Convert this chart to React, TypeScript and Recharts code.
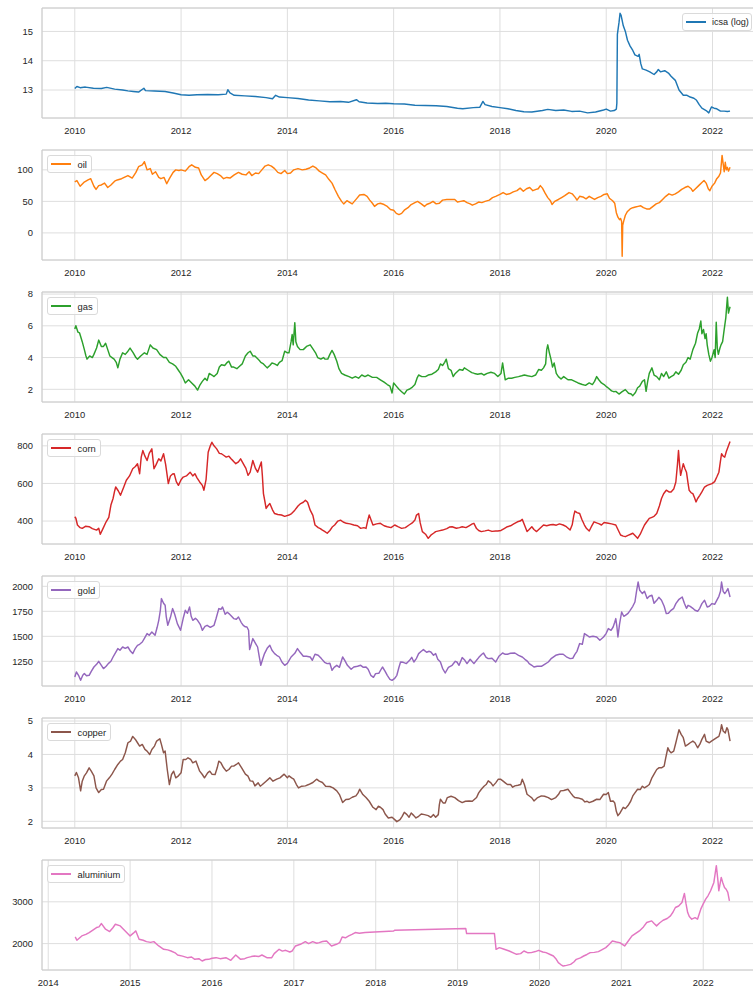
import React from "react";
import {
  CartesianGrid,
  Line,
  LineChart,
  ReferenceLine,
  XAxis,
  YAxis,
} from "recharts";

type Pt = [number, number];

// x = decimal year, y = value
const icsa: Pt[] = [
  [2010.0, 13.05], [2010.04, 13.12], [2010.1, 13.08], [2010.2, 13.1], [2010.35, 13.06], [2010.5, 13.05],
  [2010.6, 13.09], [2010.75, 13.03], [2010.9, 13.0], [2011.0, 12.97], [2011.1, 12.95], [2011.2, 12.93],
  [2011.3, 13.06], [2011.33, 12.98], [2011.5, 12.97], [2011.7, 12.95], [2011.85, 12.9], [2012.0, 12.84],
  [2012.15, 12.82], [2012.3, 12.84], [2012.5, 12.85], [2012.7, 12.84], [2012.85, 12.86], [2012.88, 13.01],
  [2012.92, 12.9], [2013.0, 12.82], [2013.2, 12.8], [2013.4, 12.78], [2013.6, 12.74], [2013.72, 12.7],
  [2013.78, 12.82], [2013.85, 12.76], [2014.0, 12.74], [2014.2, 12.71], [2014.4, 12.66], [2014.6, 12.63],
  [2014.8, 12.6], [2015.0, 12.61], [2015.15, 12.58], [2015.3, 12.67], [2015.35, 12.6], [2015.5, 12.56],
  [2015.7, 12.54], [2015.85, 12.55], [2016.0, 12.53], [2016.2, 12.52], [2016.4, 12.48], [2016.6, 12.47],
  [2016.8, 12.46], [2017.0, 12.44], [2017.2, 12.38], [2017.3, 12.36], [2017.5, 12.4], [2017.62, 12.41],
  [2017.68, 12.61], [2017.72, 12.5], [2017.85, 12.44], [2018.0, 12.4], [2018.15, 12.36], [2018.3, 12.3],
  [2018.45, 12.26], [2018.6, 12.25], [2018.8, 12.3], [2018.9, 12.34], [2019.05, 12.3], [2019.2, 12.32],
  [2019.35, 12.27], [2019.5, 12.28], [2019.65, 12.22], [2019.8, 12.25], [2019.95, 12.32], [2020.0, 12.35],
  [2020.08, 12.28], [2020.15, 12.3], [2020.19, 12.35], [2020.2, 12.55], [2020.21, 14.9], [2020.24, 15.3],
  [2020.26, 15.62], [2020.28, 15.55], [2020.32, 15.2], [2020.36, 15.0], [2020.4, 14.7], [2020.45, 14.5],
  [2020.5, 14.35], [2020.54, 14.2], [2020.6, 14.15], [2020.62, 14.22], [2020.65, 13.9], [2020.68, 13.72],
  [2020.75, 13.68], [2020.82, 13.62], [2020.9, 13.53], [2020.95, 13.62], [2020.98, 13.7], [2021.02, 13.62],
  [2021.1, 13.66], [2021.17, 13.58], [2021.22, 13.47], [2021.3, 13.33], [2021.37, 13.0], [2021.45, 12.82],
  [2021.52, 12.82], [2021.58, 12.76], [2021.65, 12.72], [2021.7, 12.65], [2021.75, 12.5], [2021.8, 12.38],
  [2021.88, 12.3], [2021.93, 12.22], [2021.98, 12.42], [2022.03, 12.38], [2022.08, 12.36], [2022.15, 12.28],
  [2022.22, 12.28], [2022.28, 12.27], [2022.33, 12.28],
];

const oil: Pt[] = [
  [2010.0, 81], [2010.04, 83], [2010.1, 74], [2010.17, 80], [2010.25, 84], [2010.3, 86], [2010.36, 74],
  [2010.4, 69], [2010.45, 75], [2010.5, 76], [2010.56, 79], [2010.62, 72], [2010.68, 76], [2010.75, 82],
  [2010.8, 84], [2010.88, 86], [2010.95, 89], [2011.0, 91], [2011.08, 87], [2011.15, 96], [2011.2, 105],
  [2011.27, 108], [2011.31, 113], [2011.36, 100], [2011.42, 102], [2011.46, 93], [2011.52, 97], [2011.58, 88],
  [2011.62, 86], [2011.68, 88], [2011.73, 78], [2011.78, 86], [2011.85, 96], [2011.9, 100], [2011.96, 99],
  [2012.0, 100], [2012.08, 98], [2012.15, 105], [2012.2, 108], [2012.27, 104], [2012.33, 103], [2012.38, 92],
  [2012.45, 83], [2012.5, 86], [2012.56, 91], [2012.62, 96], [2012.68, 94], [2012.74, 91], [2012.8, 86],
  [2012.86, 88], [2012.92, 87], [2013.0, 92], [2013.08, 96], [2013.15, 93], [2013.22, 92], [2013.28, 97],
  [2013.33, 91], [2013.4, 95], [2013.46, 94], [2013.52, 100], [2013.58, 106], [2013.64, 108], [2013.7, 106],
  [2013.76, 102], [2013.82, 96], [2013.88, 94], [2013.95, 99], [2014.0, 94], [2014.06, 95], [2014.12, 100],
  [2014.2, 102], [2014.28, 100], [2014.35, 101], [2014.42, 103], [2014.48, 106], [2014.54, 103], [2014.6, 98],
  [2014.66, 95], [2014.72, 92], [2014.78, 85], [2014.84, 79], [2014.9, 68], [2014.96, 58], [2015.02, 50],
  [2015.06, 46], [2015.12, 51], [2015.18, 48], [2015.22, 46], [2015.3, 54], [2015.36, 60], [2015.44, 61],
  [2015.5, 58], [2015.55, 52], [2015.6, 47], [2015.64, 42], [2015.7, 46], [2015.75, 47], [2015.82, 45],
  [2015.88, 42], [2015.94, 37], [2016.0, 36], [2016.05, 31], [2016.1, 29], [2016.15, 31], [2016.2, 36],
  [2016.27, 40], [2016.33, 45], [2016.4, 48], [2016.45, 50], [2016.52, 46], [2016.58, 42], [2016.62, 45],
  [2016.68, 47], [2016.74, 50], [2016.8, 46], [2016.86, 47], [2016.92, 52], [2017.0, 53], [2017.08, 53],
  [2017.15, 53], [2017.2, 49], [2017.26, 50], [2017.32, 51], [2017.38, 48], [2017.44, 46], [2017.48, 44],
  [2017.54, 46], [2017.6, 49], [2017.66, 48], [2017.72, 50], [2017.8, 52], [2017.86, 56], [2017.92, 58],
  [2018.0, 61], [2018.06, 64], [2018.12, 61], [2018.18, 62], [2018.25, 65], [2018.32, 67], [2018.38, 71],
  [2018.44, 66], [2018.5, 70], [2018.56, 72], [2018.62, 67], [2018.68, 69], [2018.72, 70], [2018.76, 75],
  [2018.8, 71], [2018.85, 63], [2018.9, 56], [2018.95, 51], [2018.98, 45], [2019.03, 50], [2019.1, 53],
  [2019.16, 56], [2019.22, 59], [2019.3, 64], [2019.36, 62], [2019.42, 56], [2019.45, 52], [2019.5, 58],
  [2019.56, 57], [2019.62, 54], [2019.68, 58], [2019.72, 56], [2019.78, 53], [2019.84, 56], [2019.9, 58],
  [2019.96, 61], [2020.02, 62], [2020.06, 55], [2020.12, 51], [2020.16, 47], [2020.19, 32], [2020.22, 25],
  [2020.25, 21], [2020.27, 23], [2020.29, 18], [2020.3, -37], [2020.31, 12], [2020.33, 19], [2020.36, 28],
  [2020.4, 34], [2020.45, 38], [2020.5, 40], [2020.55, 41], [2020.6, 42], [2020.65, 43], [2020.7, 40],
  [2020.76, 38], [2020.82, 38], [2020.88, 42], [2020.94, 46], [2021.0, 48], [2021.06, 53], [2021.12, 58],
  [2021.18, 62], [2021.24, 60], [2021.3, 62], [2021.36, 65], [2021.42, 69], [2021.48, 72], [2021.54, 74],
  [2021.6, 70], [2021.63, 66], [2021.68, 70], [2021.74, 75], [2021.8, 80], [2021.84, 83], [2021.88, 79],
  [2021.92, 70], [2021.95, 67], [2021.99, 74], [2022.04, 79], [2022.08, 86], [2022.12, 90], [2022.15, 95],
  [2022.18, 123], [2022.2, 110], [2022.22, 97], [2022.24, 112], [2022.26, 100], [2022.28, 104], [2022.3, 98],
  [2022.33, 104],
];

const gas: Pt[] = [
  [2010.0, 5.8], [2010.02, 6.0], [2010.06, 5.6], [2010.09, 5.55], [2010.14, 5.0], [2010.18, 4.5], [2010.21, 4.1],
  [2010.23, 3.9], [2010.28, 4.1], [2010.33, 4.0], [2010.36, 4.2], [2010.41, 4.6], [2010.45, 5.1], [2010.5, 4.7],
  [2010.54, 4.7], [2010.58, 4.9], [2010.62, 4.5], [2010.66, 4.1], [2010.7, 4.0], [2010.74, 3.9], [2010.78, 3.7],
  [2010.81, 3.35], [2010.85, 3.9], [2010.9, 4.3], [2010.95, 4.2], [2011.0, 4.4], [2011.04, 4.6], [2011.1, 4.3],
  [2011.15, 4.0], [2011.18, 3.9], [2011.24, 4.1], [2011.31, 4.3], [2011.36, 4.2], [2011.42, 4.8], [2011.47, 4.6],
  [2011.54, 4.5], [2011.6, 4.2], [2011.67, 4.0], [2011.72, 4.0], [2011.78, 3.7], [2011.84, 3.6], [2011.9, 3.45],
  [2011.95, 3.2], [2011.99, 3.0], [2012.04, 2.7], [2012.08, 2.4], [2012.14, 2.6], [2012.2, 2.4], [2012.26, 2.2],
  [2012.31, 1.95], [2012.36, 2.3], [2012.4, 2.5], [2012.45, 2.7], [2012.49, 2.55], [2012.53, 3.0], [2012.58, 2.9],
  [2012.62, 2.8], [2012.68, 3.0], [2012.72, 3.4], [2012.76, 3.55], [2012.82, 3.5], [2012.87, 3.7], [2012.9, 3.77],
  [2012.95, 3.4], [2012.99, 3.4], [2013.05, 3.3], [2013.1, 3.45], [2013.15, 3.6], [2013.21, 4.1], [2013.26, 4.3],
  [2013.3, 4.4], [2013.35, 4.1], [2013.39, 4.1], [2013.45, 3.9], [2013.5, 3.7], [2013.55, 3.6], [2013.62, 3.35],
  [2013.67, 3.5], [2013.71, 3.66], [2013.76, 3.6], [2013.81, 3.5], [2013.85, 3.7], [2013.9, 3.8], [2013.95, 4.4],
  [2014.0, 4.3], [2014.03, 4.3], [2014.07, 5.0], [2014.09, 5.45], [2014.11, 4.8], [2014.14, 6.2], [2014.16, 5.0],
  [2014.19, 4.7], [2014.24, 4.5], [2014.3, 4.5], [2014.36, 4.7], [2014.43, 4.8], [2014.49, 4.5], [2014.53, 4.3],
  [2014.57, 4.0], [2014.63, 3.9], [2014.68, 4.0], [2014.71, 3.9], [2014.76, 3.9], [2014.8, 4.2], [2014.84, 4.45],
  [2014.88, 4.2], [2014.93, 3.77], [2014.97, 3.3], [2015.02, 3.0], [2015.08, 2.9], [2015.16, 2.8], [2015.22, 2.7],
  [2015.28, 2.8], [2015.34, 2.7], [2015.4, 2.9], [2015.46, 2.8], [2015.52, 2.9], [2015.6, 2.75], [2015.68, 2.75],
  [2015.75, 2.6], [2015.82, 2.45], [2015.88, 2.3], [2015.93, 2.2], [2015.97, 1.77], [2016.0, 2.4], [2016.05, 2.2],
  [2016.1, 2.0], [2016.15, 1.85], [2016.2, 1.7], [2016.25, 1.95], [2016.29, 2.0], [2016.34, 2.1], [2016.4, 2.3],
  [2016.44, 2.7], [2016.47, 2.9], [2016.53, 2.8], [2016.6, 2.8], [2016.65, 2.9], [2016.72, 2.95], [2016.79, 3.1],
  [2016.84, 3.25], [2016.88, 3.6], [2016.92, 3.5], [2016.96, 3.7], [2016.99, 3.9], [2017.03, 3.3], [2017.08, 3.2],
  [2017.12, 2.8], [2017.16, 3.0], [2017.24, 3.25], [2017.3, 3.2], [2017.33, 3.35], [2017.4, 3.2], [2017.47, 3.05],
  [2017.52, 3.0], [2017.58, 2.95], [2017.65, 3.0], [2017.7, 2.9], [2017.76, 3.0], [2017.83, 3.07], [2017.9, 3.0],
  [2017.96, 2.8], [2018.02, 3.0], [2018.05, 3.66], [2018.08, 3.0], [2018.1, 2.6], [2018.16, 2.7], [2018.22, 2.7],
  [2018.28, 2.75], [2018.35, 2.8], [2018.41, 2.85], [2018.46, 2.9], [2018.52, 2.85], [2018.6, 2.8], [2018.67, 2.9],
  [2018.73, 3.25], [2018.78, 3.2], [2018.82, 3.35], [2018.86, 3.6], [2018.88, 4.5], [2018.9, 4.8], [2018.93, 4.3],
  [2018.96, 3.9], [2018.99, 3.4], [2019.02, 3.66], [2019.06, 3.0], [2019.1, 2.8], [2019.15, 2.65], [2019.2, 2.8],
  [2019.28, 2.6], [2019.35, 2.6], [2019.41, 2.5], [2019.47, 2.4], [2019.55, 2.3], [2019.61, 2.25], [2019.68, 2.4],
  [2019.74, 2.3], [2019.78, 2.5], [2019.82, 2.8], [2019.86, 2.6], [2019.91, 2.4], [2019.96, 2.3], [2020.01, 2.15],
  [2020.05, 2.05], [2020.1, 1.9], [2020.14, 1.85], [2020.18, 1.87], [2020.24, 1.7], [2020.3, 1.85], [2020.36, 1.98],
  [2020.42, 1.75], [2020.47, 1.7], [2020.5, 1.6], [2020.55, 1.8], [2020.59, 2.1], [2020.63, 2.2], [2020.68, 2.5],
  [2020.72, 2.6], [2020.75, 1.87], [2020.78, 2.5], [2020.81, 3.0], [2020.86, 3.35], [2020.9, 2.9], [2020.95, 2.8],
  [2021.0, 2.6], [2021.04, 3.0], [2021.08, 2.8], [2021.13, 3.1], [2021.18, 2.7], [2021.22, 2.8], [2021.27, 2.9],
  [2021.31, 3.1], [2021.36, 2.95], [2021.41, 3.2], [2021.45, 3.55], [2021.5, 3.7], [2021.54, 4.0], [2021.58, 3.9],
  [2021.63, 4.5], [2021.68, 4.9], [2021.72, 5.55], [2021.75, 5.8], [2021.78, 6.3], [2021.8, 5.5], [2021.83, 5.77],
  [2021.86, 5.2], [2021.88, 5.5], [2021.9, 4.8], [2021.93, 4.2], [2021.96, 3.77], [2021.99, 4.0], [2022.03, 4.5],
  [2022.05, 4.0], [2022.07, 6.23], [2022.09, 4.6], [2022.11, 4.2], [2022.14, 4.6], [2022.16, 4.8], [2022.19, 5.0],
  [2022.22, 5.77], [2022.25, 6.5], [2022.28, 7.8], [2022.3, 6.8], [2022.33, 7.2],
];

const corn: Pt[] = [
  [2010.0, 423], [2010.02, 415], [2010.05, 379], [2010.1, 365], [2010.14, 361], [2010.2, 372], [2010.27, 370],
  [2010.33, 360], [2010.41, 352], [2010.45, 362], [2010.48, 330], [2010.53, 360], [2010.59, 396], [2010.64, 420],
  [2010.68, 485], [2010.72, 520], [2010.75, 560], [2010.77, 581], [2010.82, 560], [2010.86, 537], [2010.92, 580],
  [2010.97, 617], [2011.03, 640], [2011.09, 678], [2011.14, 690], [2011.18, 705], [2011.22, 652], [2011.25, 740],
  [2011.28, 775], [2011.32, 745], [2011.36, 722], [2011.4, 760], [2011.45, 784], [2011.49, 678], [2011.53, 700],
  [2011.58, 731], [2011.62, 720], [2011.67, 758], [2011.71, 700], [2011.76, 599], [2011.8, 640], [2011.84, 650],
  [2011.87, 652], [2011.91, 610], [2011.95, 590], [2012.0, 620], [2012.04, 634], [2012.1, 640], [2012.17, 660],
  [2012.22, 640], [2012.26, 652], [2012.3, 630], [2012.35, 608], [2012.4, 590], [2012.43, 564], [2012.47, 620],
  [2012.51, 766], [2012.55, 800], [2012.58, 819], [2012.62, 800], [2012.67, 784], [2012.72, 760], [2012.76, 758],
  [2012.8, 750], [2012.85, 740], [2012.9, 745], [2012.94, 731], [2012.98, 720], [2013.03, 705], [2013.08, 715],
  [2013.12, 731], [2013.18, 700], [2013.22, 680], [2013.26, 643], [2013.3, 660], [2013.35, 722], [2013.4, 680],
  [2013.44, 660], [2013.48, 690], [2013.51, 714], [2013.53, 640], [2013.55, 546], [2013.58, 500], [2013.6, 467],
  [2013.63, 480], [2013.67, 493], [2013.72, 460], [2013.76, 440], [2013.82, 435], [2013.89, 432], [2013.95, 425],
  [2014.03, 432], [2014.08, 440], [2014.14, 458], [2014.2, 480], [2014.25, 493], [2014.3, 500], [2014.34, 511],
  [2014.38, 500], [2014.43, 458], [2014.48, 430], [2014.52, 379], [2014.58, 365], [2014.62, 360], [2014.66, 352],
  [2014.7, 345], [2014.75, 335], [2014.8, 350], [2014.85, 370], [2014.89, 379], [2014.95, 400], [2015.0, 405],
  [2015.05, 395], [2015.11, 388], [2015.18, 385], [2015.25, 379], [2015.32, 375], [2015.38, 361], [2015.44, 365],
  [2015.48, 361], [2015.51, 400], [2015.54, 432], [2015.57, 410], [2015.61, 379], [2015.68, 385], [2015.75, 388],
  [2015.82, 375], [2015.88, 370], [2015.95, 365], [2016.02, 379], [2016.08, 370], [2016.15, 361], [2016.22, 365],
  [2016.29, 379], [2016.35, 390], [2016.4, 405], [2016.43, 432], [2016.47, 440], [2016.5, 390], [2016.54, 344],
  [2016.6, 330], [2016.65, 308], [2016.7, 325], [2016.75, 335], [2016.79, 344], [2016.85, 348], [2016.92, 352],
  [2017.0, 360], [2017.05, 368], [2017.1, 370], [2017.18, 362], [2017.24, 365], [2017.29, 370], [2017.36, 365],
  [2017.42, 375], [2017.48, 385], [2017.51, 388], [2017.56, 360], [2017.6, 350], [2017.65, 344], [2017.72, 348],
  [2017.78, 352], [2017.85, 345], [2017.92, 347], [2017.96, 347], [2018.02, 350], [2018.08, 360], [2018.14, 370],
  [2018.2, 375], [2018.26, 385], [2018.33, 396], [2018.38, 400], [2018.42, 409], [2018.46, 380], [2018.51, 344],
  [2018.55, 355], [2018.6, 370], [2018.64, 355], [2018.69, 344], [2018.75, 360], [2018.82, 379], [2018.88, 375],
  [2018.95, 380], [2019.0, 382], [2019.06, 378], [2019.12, 385], [2019.19, 379], [2019.25, 370], [2019.32, 352],
  [2019.36, 380], [2019.39, 430], [2019.41, 453], [2019.45, 445], [2019.5, 440], [2019.54, 410], [2019.59, 379],
  [2019.63, 360], [2019.68, 347], [2019.72, 370], [2019.77, 396], [2019.82, 390], [2019.87, 385], [2019.91, 379],
  [2019.96, 392], [2020.04, 388], [2020.1, 385], [2020.18, 379], [2020.22, 355], [2020.27, 326], [2020.32, 320],
  [2020.36, 317], [2020.42, 325], [2020.46, 330], [2020.5, 335], [2020.55, 320], [2020.59, 308], [2020.64, 330],
  [2020.68, 355], [2020.72, 379], [2020.76, 395], [2020.81, 414], [2020.86, 420], [2020.9, 425], [2020.95, 440],
  [2021.0, 480], [2021.04, 520], [2021.08, 545], [2021.13, 564], [2021.18, 555], [2021.22, 555], [2021.27, 570],
  [2021.31, 608], [2021.34, 700], [2021.36, 775], [2021.38, 700], [2021.4, 643], [2021.43, 680], [2021.45, 705],
  [2021.48, 680], [2021.51, 660], [2021.54, 600], [2021.56, 564], [2021.6, 550], [2021.63, 546], [2021.66, 525],
  [2021.69, 502], [2021.72, 520], [2021.76, 537], [2021.8, 555], [2021.85, 581], [2021.9, 590], [2021.95, 595],
  [2021.99, 599], [2022.04, 610], [2022.08, 634], [2022.12, 660], [2022.15, 720], [2022.17, 758], [2022.2, 745],
  [2022.23, 740], [2022.26, 770], [2022.29, 793], [2022.33, 823],
];

const gold: Pt[] = [
  [2010.0, 1093], [2010.03, 1143], [2010.07, 1110], [2010.11, 1060], [2010.15, 1110], [2010.18, 1127],
  [2010.22, 1105], [2010.27, 1110], [2010.31, 1150], [2010.36, 1193], [2010.41, 1220], [2010.45, 1250],
  [2010.5, 1210], [2010.54, 1177], [2010.59, 1200], [2010.63, 1227], [2010.68, 1250], [2010.72, 1293],
  [2010.77, 1340], [2010.81, 1377], [2010.85, 1360], [2010.9, 1393], [2010.95, 1380], [2011.0, 1393],
  [2011.05, 1350], [2011.09, 1327], [2011.14, 1380], [2011.18, 1410], [2011.22, 1420], [2011.27, 1443],
  [2011.31, 1480], [2011.36, 1527], [2011.4, 1510], [2011.45, 1543], [2011.51, 1510], [2011.55, 1590],
  [2011.58, 1660], [2011.61, 1760], [2011.63, 1877], [2011.67, 1830], [2011.7, 1810], [2011.72, 1700],
  [2011.75, 1610], [2011.8, 1690], [2011.84, 1777], [2011.88, 1720], [2011.93, 1627], [2011.99, 1560],
  [2012.04, 1680], [2012.08, 1760], [2012.12, 1730], [2012.16, 1793], [2012.19, 1700], [2012.22, 1660],
  [2012.27, 1680], [2012.31, 1660], [2012.36, 1620], [2012.4, 1560], [2012.45, 1600], [2012.49, 1610],
  [2012.55, 1590], [2012.62, 1610], [2012.66, 1680], [2012.71, 1777], [2012.75, 1770], [2012.78, 1793],
  [2012.83, 1720], [2012.87, 1740], [2012.9, 1727], [2012.95, 1700], [2012.99, 1677], [2013.04, 1670],
  [2013.08, 1693], [2013.13, 1640], [2013.17, 1610], [2013.21, 1595], [2013.24, 1593], [2013.27, 1560],
  [2013.29, 1367], [2013.32, 1420], [2013.35, 1477], [2013.4, 1430], [2013.44, 1393], [2013.47, 1300],
  [2013.5, 1210], [2013.54, 1280], [2013.57, 1327], [2013.62, 1380], [2013.67, 1410], [2013.71, 1360],
  [2013.76, 1327], [2013.8, 1310], [2013.85, 1293], [2013.9, 1240], [2013.95, 1210], [2014.0, 1230],
  [2014.07, 1293], [2014.14, 1330], [2014.19, 1377], [2014.24, 1340], [2014.3, 1300], [2014.36, 1300],
  [2014.43, 1293], [2014.47, 1260], [2014.52, 1320], [2014.58, 1310], [2014.64, 1277], [2014.7, 1240],
  [2014.75, 1227], [2014.8, 1230], [2014.84, 1160], [2014.88, 1190], [2014.93, 1210], [2014.98, 1190],
  [2015.04, 1293], [2015.08, 1260], [2015.13, 1210], [2015.2, 1170], [2015.25, 1193], [2015.32, 1200],
  [2015.38, 1210], [2015.43, 1190], [2015.48, 1193], [2015.52, 1170], [2015.57, 1110], [2015.62, 1090],
  [2015.66, 1127], [2015.72, 1130], [2015.79, 1193], [2015.84, 1150], [2015.88, 1110], [2015.93, 1070],
  [2015.97, 1060], [2016.02, 1080], [2016.06, 1110], [2016.1, 1190], [2016.13, 1243], [2016.18, 1240],
  [2016.24, 1227], [2016.3, 1260], [2016.34, 1290], [2016.38, 1243], [2016.43, 1280], [2016.47, 1327],
  [2016.52, 1350], [2016.56, 1367], [2016.62, 1340], [2016.67, 1350], [2016.7, 1343], [2016.75, 1310],
  [2016.79, 1327], [2016.83, 1270], [2016.88, 1243], [2016.92, 1180], [2016.97, 1133], [2017.03, 1190],
  [2017.1, 1210], [2017.16, 1250], [2017.19, 1243], [2017.23, 1210], [2017.29, 1287], [2017.34, 1260],
  [2017.38, 1227], [2017.44, 1270], [2017.51, 1227], [2017.56, 1260], [2017.6, 1287], [2017.66, 1320],
  [2017.69, 1333], [2017.74, 1290], [2017.78, 1277], [2017.85, 1280], [2017.92, 1243], [2017.98, 1300],
  [2018.05, 1333], [2018.1, 1320], [2018.14, 1320], [2018.2, 1330], [2018.28, 1333], [2018.35, 1310],
  [2018.42, 1293], [2018.47, 1270], [2018.52, 1250], [2018.55, 1227], [2018.6, 1210], [2018.64, 1193],
  [2018.7, 1200], [2018.78, 1200], [2018.84, 1220], [2018.91, 1243], [2018.97, 1280], [2019.05, 1310],
  [2019.12, 1320], [2019.19, 1320], [2019.25, 1295], [2019.32, 1277], [2019.37, 1280], [2019.41, 1320],
  [2019.45, 1350], [2019.5, 1427], [2019.55, 1420], [2019.59, 1527], [2019.64, 1510], [2019.68, 1493],
  [2019.75, 1500], [2019.82, 1493], [2019.88, 1460], [2019.95, 1493], [2020.0, 1530], [2020.04, 1577],
  [2020.09, 1560], [2020.13, 1593], [2020.16, 1640], [2020.18, 1677], [2020.2, 1600], [2020.22, 1493],
  [2020.25, 1620], [2020.29, 1743], [2020.33, 1700], [2020.36, 1710], [2020.41, 1730], [2020.45, 1760],
  [2020.5, 1800], [2020.54, 1843], [2020.57, 1950], [2020.6, 2043], [2020.63, 1960], [2020.68, 1927],
  [2020.72, 1950], [2020.77, 1877], [2020.81, 1900], [2020.86, 1910], [2020.9, 1830], [2020.95, 1860],
  [2020.99, 1890], [2021.04, 1860], [2021.09, 1800], [2021.13, 1727], [2021.17, 1730], [2021.22, 1760],
  [2021.27, 1780], [2021.31, 1827], [2021.37, 1870], [2021.43, 1893], [2021.47, 1830], [2021.51, 1780],
  [2021.54, 1810], [2021.58, 1800], [2021.63, 1780], [2021.67, 1760], [2021.72, 1750], [2021.76, 1780],
  [2021.8, 1827], [2021.85, 1860], [2021.9, 1793], [2021.94, 1800], [2021.99, 1827], [2022.04, 1820],
  [2022.08, 1860], [2022.12, 1900], [2022.15, 1950], [2022.17, 2043], [2022.2, 1950], [2022.23, 1927],
  [2022.26, 1950], [2022.29, 1977], [2022.33, 1893],
];

const copper: Pt[] = [
  [2010.0, 3.36], [2010.03, 3.46], [2010.07, 3.3], [2010.11, 2.91], [2010.14, 3.2], [2010.18, 3.36], [2010.22, 3.45],
  [2010.27, 3.6], [2010.31, 3.5], [2010.36, 3.36], [2010.4, 3.0], [2010.45, 2.86], [2010.5, 2.95], [2010.54, 2.96],
  [2010.6, 3.21], [2010.65, 3.3], [2010.7, 3.41], [2010.75, 3.55], [2010.81, 3.7], [2010.86, 3.8], [2010.9, 3.85],
  [2010.95, 4.05], [2011.0, 4.35], [2011.05, 4.4], [2011.09, 4.54], [2011.14, 4.45], [2011.18, 4.35], [2011.22, 4.25],
  [2011.27, 4.3], [2011.32, 4.15], [2011.36, 4.1], [2011.41, 4.0], [2011.45, 4.15], [2011.5, 4.25], [2011.54, 4.4],
  [2011.6, 4.47], [2011.63, 4.3], [2011.67, 4.05], [2011.7, 4.1], [2011.74, 3.55], [2011.78, 3.1], [2011.82, 3.4],
  [2011.86, 3.5], [2011.9, 3.3], [2011.95, 3.36], [2012.0, 3.45], [2012.04, 3.85], [2012.09, 3.85], [2012.13, 3.9],
  [2012.18, 3.85], [2012.22, 3.75], [2012.28, 3.8], [2012.35, 3.5], [2012.4, 3.4], [2012.44, 3.3], [2012.5, 3.45],
  [2012.54, 3.5], [2012.58, 3.41], [2012.64, 3.4], [2012.68, 3.6], [2012.71, 3.8], [2012.75, 3.75], [2012.8, 3.6],
  [2012.85, 3.5], [2012.9, 3.55], [2012.95, 3.65], [2012.99, 3.65], [2013.04, 3.7], [2013.08, 3.75], [2013.14, 3.6],
  [2013.21, 3.41], [2013.26, 3.35], [2013.3, 3.21], [2013.35, 3.2], [2013.39, 3.06], [2013.45, 3.15], [2013.49, 3.05],
  [2013.53, 3.1], [2013.6, 3.2], [2013.67, 3.3], [2013.73, 3.2], [2013.8, 3.26], [2013.86, 3.3], [2013.94, 3.41],
  [2014.0, 3.3], [2014.03, 3.36], [2014.08, 3.3], [2014.12, 3.26], [2014.17, 3.1], [2014.21, 3.0], [2014.27, 3.05],
  [2014.34, 3.06], [2014.4, 3.1], [2014.48, 3.16], [2014.55, 3.26], [2014.6, 3.2], [2014.66, 3.16], [2014.72, 3.05],
  [2014.8, 3.04], [2014.86, 3.0], [2014.93, 2.91], [2014.98, 2.8], [2015.04, 2.56], [2015.1, 2.65], [2015.16, 2.66],
  [2015.22, 2.72], [2015.29, 2.76], [2015.33, 2.85], [2015.36, 2.96], [2015.42, 2.8], [2015.48, 2.71], [2015.54, 2.6],
  [2015.61, 2.42], [2015.67, 2.35], [2015.71, 2.45], [2015.75, 2.42], [2015.8, 2.35], [2015.84, 2.22], [2015.9, 2.1],
  [2015.97, 2.12], [2016.02, 2.05], [2016.06, 1.99], [2016.12, 2.05], [2016.16, 2.15], [2016.2, 2.27], [2016.25, 2.2],
  [2016.29, 2.12], [2016.33, 2.25], [2016.38, 2.17], [2016.42, 2.1], [2016.47, 2.15], [2016.52, 2.22], [2016.58, 2.2],
  [2016.65, 2.17], [2016.7, 2.12], [2016.75, 2.2], [2016.79, 2.12], [2016.84, 2.2], [2016.86, 2.5], [2016.88, 2.66],
  [2016.93, 2.55], [2016.97, 2.55], [2017.01, 2.71], [2017.08, 2.75], [2017.15, 2.71], [2017.22, 2.62], [2017.29, 2.56],
  [2017.35, 2.6], [2017.42, 2.61], [2017.48, 2.6], [2017.56, 2.71], [2017.6, 2.85], [2017.65, 2.96], [2017.7, 3.05],
  [2017.74, 3.1], [2017.78, 3.21], [2017.83, 3.15], [2017.87, 3.06], [2017.92, 3.15], [2017.97, 3.26], [2018.01, 3.26],
  [2018.06, 3.2], [2018.1, 3.15], [2018.14, 3.1], [2018.2, 3.1], [2018.24, 3.02], [2018.28, 3.06], [2018.34, 3.08],
  [2018.39, 3.1], [2018.42, 3.26], [2018.46, 3.1], [2018.51, 2.81], [2018.56, 2.75], [2018.6, 2.7], [2018.64, 2.61],
  [2018.7, 2.7], [2018.78, 2.76], [2018.84, 2.75], [2018.91, 2.71], [2018.97, 2.65], [2019.05, 2.71], [2019.1, 2.8],
  [2019.14, 2.91], [2019.2, 2.92], [2019.28, 2.96], [2019.33, 2.85], [2019.38, 2.75], [2019.41, 2.71], [2019.47, 2.7],
  [2019.55, 2.66], [2019.6, 2.58], [2019.64, 2.6], [2019.68, 2.56], [2019.75, 2.6], [2019.82, 2.66], [2019.88, 2.65],
  [2019.95, 2.81], [2020.0, 2.8], [2020.04, 2.86], [2020.08, 2.6], [2020.13, 2.61], [2020.16, 2.55], [2020.19, 2.3],
  [2020.22, 2.17], [2020.26, 2.25], [2020.32, 2.42], [2020.36, 2.38], [2020.41, 2.47], [2020.46, 2.6], [2020.5, 2.76],
  [2020.54, 2.85], [2020.59, 2.96], [2020.64, 2.95], [2020.68, 3.05], [2020.72, 3.0], [2020.77, 3.05], [2020.81, 3.1],
  [2020.86, 3.3], [2020.9, 3.41], [2020.95, 3.55], [2020.99, 3.6], [2021.04, 3.6], [2021.09, 3.65], [2021.12, 3.9],
  [2021.16, 4.2], [2021.19, 4.1], [2021.22, 4.05], [2021.27, 4.1], [2021.31, 4.35], [2021.34, 4.55], [2021.37, 4.74],
  [2021.41, 4.6], [2021.45, 4.5], [2021.49, 4.25], [2021.54, 4.3], [2021.58, 4.35], [2021.63, 4.4], [2021.67, 4.35],
  [2021.72, 4.2], [2021.76, 4.3], [2021.8, 4.45], [2021.85, 4.6], [2021.88, 4.4], [2021.94, 4.35], [2021.98, 4.4],
  [2022.03, 4.45], [2022.08, 4.5], [2022.12, 4.54], [2022.15, 4.7], [2022.17, 4.89], [2022.2, 4.7], [2022.24, 4.64],
  [2022.27, 4.8], [2022.29, 4.74], [2022.33, 4.4],
];

const aluminium: Pt[] = [
  [2014.33, 2160], [2014.35, 2080], [2014.41, 2184], [2014.46, 2220], [2014.5, 2264], [2014.55, 2330],
  [2014.59, 2384], [2014.62, 2400], [2014.65, 2480], [2014.7, 2344], [2014.75, 2288], [2014.79, 2380],
  [2014.82, 2464], [2014.88, 2424], [2014.94, 2304], [2015.0, 2184], [2015.04, 2250], [2015.07, 2304],
  [2015.11, 2104], [2015.16, 2080], [2015.2, 2048], [2015.25, 2030], [2015.29, 2048], [2015.35, 1944],
  [2015.41, 1864], [2015.46, 1850], [2015.5, 1824], [2015.55, 1780], [2015.58, 1728], [2015.64, 1700],
  [2015.7, 1664], [2015.75, 1680], [2015.79, 1624], [2015.84, 1640], [2015.88, 1584], [2015.92, 1620],
  [2015.96, 1624], [2016.0, 1650], [2016.05, 1664], [2016.1, 1640], [2016.17, 1664], [2016.23, 1600],
  [2016.29, 1728], [2016.35, 1624], [2016.4, 1640], [2016.43, 1664], [2016.48, 1690], [2016.52, 1704],
  [2016.57, 1690], [2016.61, 1728], [2016.67, 1664], [2016.73, 1664], [2016.76, 1760], [2016.82, 1864],
  [2016.86, 1820], [2016.9, 1840], [2016.95, 1800], [2016.98, 1824], [2017.02, 1944], [2017.08, 1984],
  [2017.14, 2048], [2017.18, 2000], [2017.23, 2048], [2017.28, 2010], [2017.31, 2024], [2017.35, 2050],
  [2017.4, 2064], [2017.46, 1944], [2017.52, 1984], [2017.56, 2024], [2017.59, 2160], [2017.63, 2140],
  [2017.67, 2184], [2017.71, 2220], [2017.75, 2264], [2017.8, 2250], [2017.87, 2264], [2018.22, 2304],
  [2018.23, 2320], [2019.1, 2360], [2019.11, 2240], [2019.45, 2240], [2019.47, 1864], [2019.51, 1904],
  [2019.56, 1870], [2019.63, 1824], [2019.68, 1780], [2019.72, 1744], [2019.77, 1760], [2019.81, 1824],
  [2019.86, 1780], [2019.9, 1784], [2019.95, 1810], [2019.99, 1840], [2020.04, 1800], [2020.08, 1784],
  [2020.13, 1740], [2020.17, 1704], [2020.2, 1640], [2020.23, 1544], [2020.26, 1500], [2020.29, 1464],
  [2020.33, 1480], [2020.38, 1504], [2020.42, 1560], [2020.45, 1624], [2020.5, 1660], [2020.54, 1704],
  [2020.58, 1740], [2020.62, 1784], [2020.67, 1790], [2020.72, 1808], [2020.76, 1850], [2020.81, 1904],
  [2020.85, 1980], [2020.89, 2064], [2020.94, 2040], [2020.98, 2024], [2021.04, 1944], [2021.08, 2050],
  [2021.13, 2184], [2021.18, 2250], [2021.22, 2304], [2021.27, 2400], [2021.31, 2504], [2021.37, 2544],
  [2021.4, 2480], [2021.43, 2424], [2021.47, 2500], [2021.51, 2560], [2021.56, 2600], [2021.6, 2664],
  [2021.63, 2750], [2021.66, 2864], [2021.7, 2900], [2021.74, 2984], [2021.77, 3200], [2021.79, 2950],
  [2021.81, 2744], [2021.83, 2650], [2021.86, 2584], [2021.9, 2620], [2021.93, 2584], [2021.97, 2824],
  [2022.0, 2950], [2022.03, 3064], [2022.06, 3150], [2022.09, 3264], [2022.13, 3464], [2022.16, 3864],
  [2022.18, 3500], [2022.19, 3264], [2022.22, 3584], [2022.24, 3450], [2022.26, 3344], [2022.28, 3300],
  [2022.3, 3224], [2022.32, 3024],
];

const evenYears = [2010, 2012, 2014, 2016, 2018, 2020, 2022];
const allYears = [2014, 2015, 2016, 2017, 2018, 2019, 2020, 2021, 2022];

const FONT = '"Liberation Sans", Arial, "DejaVu Sans", sans-serif';
const GRID = "#dedede";
const SPINE = "#cccccc";
const TEXT = "#262626";

type PanelDef = {
  name: string;
  color: string;
  data: Pt[];
  yDomain: [number, number];
  yTicks: number[];
  xDomain: [number, number];
  xTicks: number[];
  legendRight?: boolean;
};

const panels: PanelDef[] = [
  { name: "icsa (log)", color: "#1f77b4", data: icsa, yDomain: [12.045, 15.8], yTicks: [13, 14, 15], xDomain: [2009.383, 2022.95], xTicks: evenYears, legendRight: true },
  { name: "oil", color: "#ff7f0e", data: oil, yDomain: [-43, 131.5], yTicks: [0, 50, 100], xDomain: [2009.383, 2022.95], xTicks: evenYears },
  { name: "gas", color: "#2ca02c", data: gas, yDomain: [1.2, 8.13], yTicks: [2, 4, 6, 8], xDomain: [2009.383, 2022.95], xTicks: evenYears },
  { name: "corn", color: "#d62728", data: corn, yDomain: [278, 863], yTicks: [400, 600, 800], xDomain: [2009.383, 2022.95], xTicks: evenYears },
  { name: "gold", color: "#9467bd", data: gold, yDomain: [1003, 2103], yTicks: [1250, 1500, 1750, 2000], xDomain: [2009.383, 2022.95], xTicks: evenYears },
  { name: "copper", color: "#8c564b", data: copper, yDomain: [1.8, 5.09], yTicks: [2, 3, 4, 5], xDomain: [2009.383, 2022.95], xTicks: evenYears },
  { name: "aluminium", color: "#e377c2", data: aluminium, yDomain: [1369, 4000], yTicks: [2000, 3000], xDomain: [2013.924, 2022.73], xTicks: allYears },
];

const PLOT_LEFT = 42;
const PLOT_H = 110;
const TOP_PAD = 5;
const X_AXIS_H = 30;
const CHART_W = 765;

function Panel({ p, top }: { p: PanelDef; top: number }) {
  const rows = p.data.map(([t, v]) => ({ t, v }));
  return (
    <div style={{ position: "absolute", left: 0, top: top - TOP_PAD }}>
      <LineChart
        width={CHART_W}
        height={TOP_PAD + PLOT_H + X_AXIS_H}
        data={rows}
        margin={{ top: TOP_PAD, right: 2, left: 0, bottom: 0 }}
      >
        <CartesianGrid stroke={GRID} strokeWidth={1} />
        <XAxis
          dataKey="t"
          type="number"
          domain={p.xDomain}
          ticks={p.xTicks}
          allowDataOverflow
          height={X_AXIS_H}
          tickLine={false}
          tickSize={0}
          tickMargin={9.5}
          axisLine={{ stroke: SPINE }}
          tick={{ fontSize: 9.4, fill: TEXT, fontFamily: FONT }}
          tickFormatter={(v: number) => String(v)}
        />
        <YAxis
          type="number"
          domain={p.yDomain}
          ticks={p.yTicks}
          allowDataOverflow
          width={PLOT_LEFT}
          tickLine={false}
          tickSize={0}
          tickMargin={9}
          axisLine={{ stroke: SPINE }}
          tick={{ fontSize: 9.4, fill: TEXT, fontFamily: FONT }}
        />
        <ReferenceLine y={p.yDomain[1]} stroke={SPINE} ifOverflow="extendDomain" />
        <Line
          type="linear"
          dataKey="v"
          stroke={p.color}
          strokeWidth={1.45}
          strokeLinejoin="round"
          dot={false}
          isAnimationActive={false}
        />
      </LineChart>
      <div
        style={{
          position: "absolute",
          top: TOP_PAD + 5,
          left: p.legendRight ? 682 : 46.5,
          height: 16,
          display: "flex",
          alignItems: "center",
          padding: p.legendRight ? "0 2px 0 3px" : "0 4px 0 3px",
          background: "rgba(255,255,255,0.8)",
          border: "1px solid #dadada",
          borderRadius: 3,
          fontFamily: FONT,
          fontSize: p.legendRight ? 9.1 : 9.4,
          color: TEXT,
          whiteSpace: "nowrap",
        }}
      >
        <span
          style={{
            display: "inline-block",
            width: 20,
            height: 1.5,
            background: p.color,
            marginRight: p.legendRight ? 6 : 7,
          }}
        />
        {p.name}
      </div>
    </div>
  );
}

export default function App() {
  return (
    <div
      style={{
        position: "absolute",
        left: 0,
        top: 0,
        width: 753,
        height: 990,
        overflow: "hidden",
        background: "#fff",
      }}
    >
      {panels.map((p, i) => (
        <Panel key={p.name} p={p} top={8 + i * 142} />
      ))}
    </div>
  );
}
